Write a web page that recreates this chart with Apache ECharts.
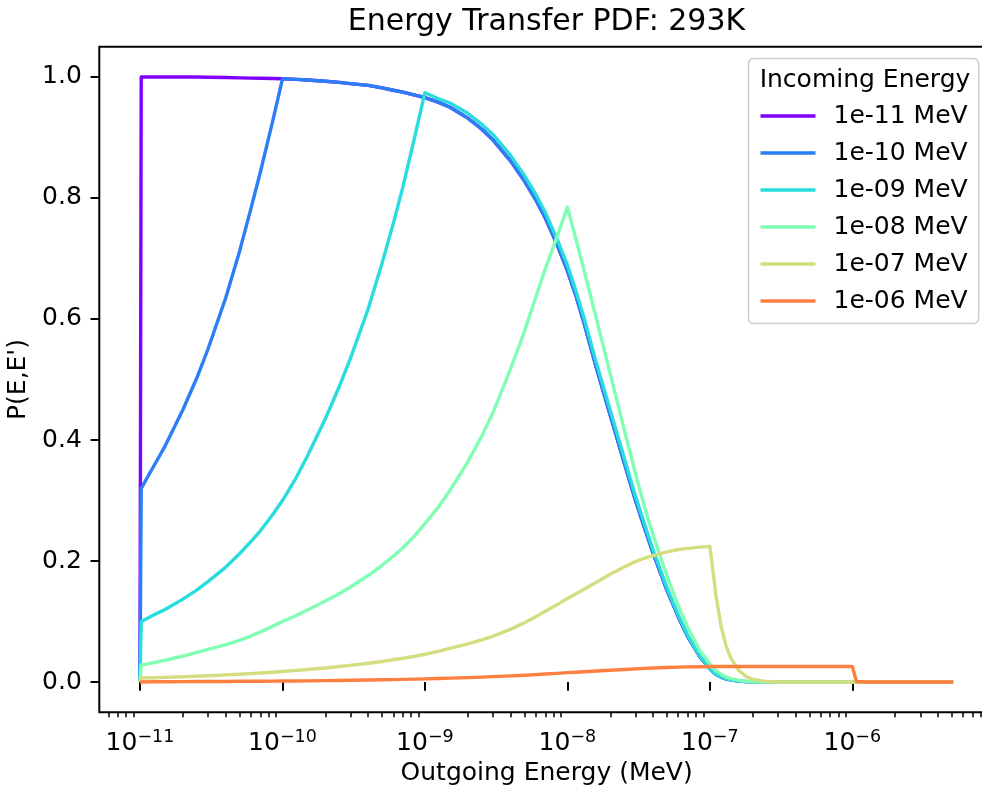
<!DOCTYPE html>
<html>
<head>
<meta charset="utf-8">
<script src="https://cdn.jsdelivr.net/npm/echarts@6/dist/echarts.min.js"></script>
<style>
  html, body { margin: 0; padding: 0; background: #ffffff; }
  #chart { width: 982px; height: 791px; }
</style>
</head>
<body>
<div id="chart"></div>
<script>
// Outgoing energy grid (MeV), shared by every curve; one row per decade
const energies = [
  1e-11, 1.02e-11, 1.25e-11, 1.5e-11, 2e-11, 2.5e-11, 3e-11, 4e-11, 5e-11, 6e-11, 7e-11, 8.5e-11,
  1e-10, 1.25e-10, 1.5e-10, 2e-10, 2.5e-10, 3e-10, 4e-10, 5e-10, 6e-10, 7e-10, 8.5e-10,
  1e-9, 1.25e-9, 1.5e-9, 2e-9, 2.5e-9, 3e-9, 4e-9, 5e-9, 6e-9, 7e-9, 8.5e-9,
  1e-8, 1.15e-8, 1.3e-8, 1.6e-8, 2e-8, 2.5e-8, 3e-8, 3.5e-8, 4e-8, 5e-8, 6e-8, 7e-8, 8.5e-8,
  1e-7, 1.05e-7, 1.1e-7, 1.2e-7, 1.3e-7, 1.4e-7, 1.6e-7, 1.8e-7, 2e-7, 2.5e-7, 3e-7, 4e-7, 6e-7,
  1e-6, 1.035e-6, 1.07e-6, 1.2e-6, 2e-6, 5.1e-6
];

// P(E,E') for each incoming energy, same row layout as the grid
const pdf1e11 = [
  0, 1.0, 1.0, 1.0, 1.0, 1.0, 0.9995, 0.999, 0.9985, 0.998, 0.9978, 0.9975,
  0.997, 0.996, 0.995, 0.993, 0.991, 0.989, 0.986, 0.982, 0.978, 0.975, 0.970,
  0.966, 0.958, 0.950, 0.932, 0.914, 0.896, 0.861, 0.828, 0.797, 0.767, 0.722,
  0.680, 0.638, 0.596, 0.519, 0.441, 0.363, 0.301, 0.253, 0.213, 0.152, 0.108, 0.075, 0.042,
  0.022, 0.017, 0.013, 0.0083, 0.0054, 0.0036, 0.0016, 0.0007, 0.0003, 0.0001, 0, 0, 0,
  0, 0, 0, 0, 0, 0
];
const pdf1e10 = [
  0, 0.32, 0.357, 0.39, 0.45, 0.502, 0.55, 0.635, 0.712, 0.782, 0.843, 0.925,
  0.997, 0.996, 0.995, 0.993, 0.991, 0.989, 0.986, 0.982, 0.978, 0.975, 0.970,
  0.966, 0.958, 0.950, 0.932, 0.914, 0.896, 0.861, 0.828, 0.797, 0.767, 0.722,
  0.680, 0.638, 0.596, 0.519, 0.441, 0.363, 0.301, 0.253, 0.213, 0.152, 0.108, 0.075, 0.042,
  0.022, 0.017, 0.013, 0.0083, 0.0054, 0.0036, 0.0016, 0.0007, 0.0003, 0.0001, 0, 0, 0,
  0, 0, 0, 0, 0, 0
];
const pdf1e09 = [
  0, 0.10, 0.111, 0.12, 0.137, 0.152, 0.166, 0.19, 0.212, 0.232, 0.25, 0.276,
  0.30, 0.338, 0.374, 0.435, 0.488, 0.535, 0.617, 0.692, 0.758, 0.818, 0.902,
  0.974, 0.964, 0.957, 0.940, 0.922, 0.905, 0.870, 0.837, 0.806, 0.776, 0.731,
  0.689, 0.646, 0.604, 0.527, 0.449, 0.371, 0.308, 0.259, 0.218, 0.156, 0.111, 0.077, 0.043,
  0.0225, 0.0175, 0.0133, 0.0086, 0.0056, 0.0037, 0.0017, 0.0008, 0.0003, 0.0001, 0, 0, 0,
  0, 0, 0, 0, 0, 0
];
const pdf1e08 = [
  0, 0.028, 0.032, 0.036, 0.043, 0.049, 0.054, 0.062, 0.069, 0.076, 0.083, 0.092,
  0.100, 0.110, 0.119, 0.134, 0.146, 0.157, 0.176, 0.193, 0.208, 0.222, 0.242,
  0.262, 0.290, 0.317, 0.364, 0.406, 0.445, 0.518, 0.580, 0.636, 0.683, 0.737,
  0.785, 0.731, 0.683, 0.600, 0.509, 0.418, 0.345, 0.287, 0.243, 0.175, 0.126, 0.090, 0.052,
  0.030, 0.024, 0.019, 0.013, 0.0085, 0.0058, 0.0027, 0.0012, 0.0006, 0.0001, 0, 0, 0,
  0, 0, 0, 0, 0, 0
];
const pdf1e07 = [
  0, 0.0066, 0.0072, 0.0078, 0.0088, 0.0097, 0.0105, 0.0118, 0.013, 0.014, 0.0149, 0.0162,
  0.0175, 0.0192, 0.0207, 0.0233, 0.0256, 0.0276, 0.031, 0.034, 0.0368, 0.0393, 0.0427,
  0.046, 0.051, 0.0555, 0.063, 0.0695, 0.0755, 0.0875, 0.098, 0.108, 0.117, 0.128,
  0.138, 0.146, 0.153, 0.165, 0.178, 0.190, 0.199, 0.205, 0.209, 0.215, 0.219, 0.221, 0.223,
  0.224, 0.185, 0.145, 0.092, 0.060, 0.040, 0.019, 0.009, 0.0045, 0.0008, 0.0001, 0, 0,
  0, 0, 0, 0, 0, 0
];
const pdf1e06 = [
  0, 0.0005, 0.0005, 0.0006, 0.0007, 0.0008, 0.0009, 0.0010, 0.0012, 0.0013, 0.0014, 0.0015,
  0.0017, 0.0018, 0.0020, 0.0023, 0.0026, 0.0029, 0.0033, 0.0037, 0.0040, 0.0044, 0.0048,
  0.0052, 0.0058, 0.0064, 0.0073, 0.0081, 0.0089, 0.0102, 0.0113, 0.0123, 0.0132, 0.0144,
  0.0155, 0.0163, 0.0170, 0.0182, 0.0195, 0.0208, 0.0218, 0.0226, 0.0232, 0.0241, 0.0247, 0.0251, 0.0254,
  0.0256, 0.0257, 0.0257, 0.0257, 0.0257, 0.0257, 0.0257, 0.0257, 0.0257, 0.0257, 0.0257, 0.0257, 0.0257,
  0.0257, 0.013, 0.001, 0, 0, 0
];

const seriesNames = ['1e-11 MeV', '1e-10 MeV', '1e-09 MeV', '1e-08 MeV', '1e-07 MeV', '1e-06 MeV'];
const seriesValues = [pdf1e11, pdf1e10, pdf1e09, pdf1e08, pdf1e07, pdf1e06];
const seriesColors = ['#8000ff', '#2c7ef7', '#2adddd', '#80ffb4', '#d4dd80', '#ff7f41'];

// Axis ticks: decades on x (log10 of MeV), fixed steps on y
const decadeTicks = [-11, -10, -9, -8, -7, -6];
const yTicks = [0, 0.2, 0.4, 0.6, 0.8, 1.0];

const FONT = '"DejaVu Sans", sans-serif';
const xLogMin = -11.2856, xLogMax = -5.0055;

// sub-decade ticks (2..9 x 10^n) that fall inside the axis range
const minorTicks = [];
for (let n = -12; n <= -5; n++) {
  for (let k = 2; k <= 9; k++) {
    const v = n + Math.log10(k);
    if (v > xLogMin && v < xLogMax) minorTicks.push(v);
  }
}

const chart = echarts.init(document.getElementById('chart'), null, { renderer: 'canvas' });

const series = seriesNames.map((name, i) => ({
  name: name,
  type: 'line',
  xAxisIndex: 0,
  yAxisIndex: 0,
  showSymbol: false,
  symbol: 'none',
  color: seriesColors[i],
  lineStyle: { width: 3.4, color: seriesColors[i], join: 'round', cap: 'butt' },
  emphasis: { disabled: true },
  data: energies.map((e, j) => [Math.log10(e), seriesValues[i][j]])
}));

const option = {
  animation: false,
  backgroundColor: '#ffffff',
  textStyle: { fontFamily: FONT },
  grid: {
    left: 99.3, top: 46.7, width: 894.7, height: 665.6,
    show: true, borderColor: '#000000', borderWidth: 2, backgroundColor: 'transparent',
    containLabel: false, outerBoundsMode: 'none'
  },
  xAxis: [
    {
      type: 'value', min: xLogMin, max: xLogMax,
      name: 'Outgoing Energy (MeV)', nameLocation: 'middle', nameGap: 45,
      nameTextStyle: { fontSize: 25, color: '#000', fontFamily: FONT },
      axisLine: { show: false },
      splitLine: { show: false },
      axisTick: { show: true, customValues: decadeTicks, length: 8.75, lineStyle: { color: '#000', width: 2 } },
      axisLabel: {
        show: true, customValues: decadeTicks, margin: 16,
        formatter: v => '{b|10}{s|\u2212' + Math.abs(Math.round(v)) + '}',
        rich: {
          b: { fontSize: 25, fontFamily: FONT, color: '#000', verticalAlign: 'bottom', lineHeight: 28 },
          s: { fontSize: 17.5, fontFamily: FONT, color: '#000', verticalAlign: 'top', lineHeight: 18 }
        }
      }
    },
    {
      type: 'value', min: xLogMin, max: xLogMax, position: 'bottom',
      axisLine: { show: false },
      splitLine: { show: false },
      axisTick: { show: true, customValues: minorTicks, length: 5, lineStyle: { color: '#000', width: 1.5 } },
      axisLabel: { show: false, customValues: minorTicks }
    }
  ],
  yAxis: {
    type: 'value', min: -0.05, max: 1.05,
    name: "P(E,E')", nameLocation: 'middle', nameGap: 58,
    nameTextStyle: { fontSize: 25, color: '#000', fontFamily: FONT },
    axisLine: { show: false },
    splitLine: { show: false },
    axisTick: { show: true, customValues: yTicks, length: 8.75, lineStyle: { color: '#000', width: 2 } },
    axisLabel: {
      show: true, customValues: yTicks, margin: 17.5,
      fontSize: 25, color: '#000', fontFamily: FONT,
      formatter: v => v.toFixed(1)
    }
  },
  legend: {
    data: seriesNames,
    orient: 'vertical',
    left: 748.5, top: 58.5,
    icon: 'rect',
    itemWidth: 55, itemHeight: 3.5, itemGap: 12,
    padding: [45, 11, 10, 12],
    backgroundColor: 'rgba(255,255,255,0.8)',
    borderColor: '#cccccc', borderWidth: 1.5, borderRadius: 5,
    selectedMode: false,
    textStyle: { fontSize: 25, color: '#000', fontFamily: FONT, lineHeight: 25, padding: [0, 0, 0, 13] }
  },
  graphic: [
    {
      type: 'text', x: 546.5, y: 22, z: 100,
      style: { text: 'Energy Transfer PDF: 293K', fill: '#000', fontSize: 30, fontFamily: FONT, align: 'center', verticalAlign: 'middle' }
    },
    {
      type: 'text', x: 865, y: 80, z: 100,
      style: { text: 'Incoming Energy', fill: '#000', fontSize: 25, fontFamily: FONT, align: 'center', verticalAlign: 'middle' }
    }
  ],
  series: series
};

chart.setOption(option);
</script>
</body>
</html>
